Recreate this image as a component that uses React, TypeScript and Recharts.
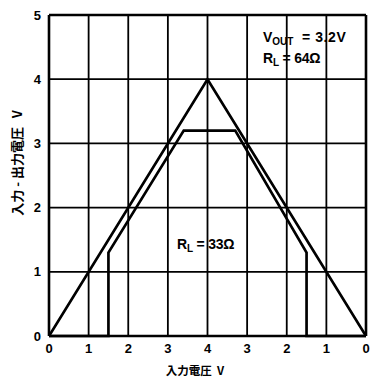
import React from 'react';
import { LineChart, Line, XAxis, YAxis, CartesianGrid, ReferenceLine } from 'recharts';

// Input sweep positions (0 → 4 V → 0) and the tick labels shown along the bottom
const xTicks = [0, 1, 2, 3, 4, 5, 6, 7, 8];
const xTickLabels = ['0', '1', '2', '3', '4', '3', '2', '1', '0'];
const yTicks = [0, 1, 2, 3, 4, 5];

// Input voltage trace (identity, up then down)
const inputX = [0, 4, 8];
const inputY = [0, 4, 0];

// Output voltage with RL = 33Ω: off below 1.5 V, clipped at 3.2 V
const outputX = [0, 1.5, 1.5, 3.4, 4.7, 6.5, 6.5, 8];
const outputY = [0, 0, 1.3, 3.2, 3.2, 1.3, 0, 0];

const toPoints = (xs: number[], ys: number[]) => xs.map((x, i) => ({ x, y: ys[i] }));
const inputData = toPoints(inputX, inputY);
const outputData = toPoints(outputX, outputY);

const W = 362;
const H = 375;
const latin = '"Liberation Sans", Arial, Helvetica, sans-serif';
const cjk = '"Noto Sans CJK JP", "Noto Sans", sans-serif';

export default function App() {
  return (
    <div style={{ position: 'absolute', left: 8, top: 8, width: W, height: H }}>
      <LineChart width={W} height={H} margin={{ top: 7, right: 4, left: 0, bottom: 0 }}>
        <CartesianGrid stroke="#000" strokeWidth={1.8} strokeOpacity={1} />
        <XAxis
          type="number"
          dataKey="x"
          domain={[0, 8]}
          ticks={xTicks}
          tickFormatter={(v: number) => xTickLabels[v]}
          interval={0}
          height={47}
          tickLine={false}
          axisLine={{ stroke: '#000', strokeWidth: 2.6 }}
          tick={{ fill: '#000', fontSize: 13, fontWeight: 'bold', fontFamily: latin }}
          allowDataOverflow
        />
        <YAxis
          type="number"
          domain={[0, 5]}
          ticks={yTicks}
          interval={0}
          width={41}
          tickLine={false}
          axisLine={{ stroke: '#000', strokeWidth: 2.6 }}
          tick={{ fill: '#000', fontSize: 13, fontWeight: 'bold', fontFamily: latin }}
        />
        <ReferenceLine y={5} stroke="#000" strokeWidth={2.6} />
        <ReferenceLine x={8} stroke="#000" strokeWidth={2.6} />
        <Line
          data={inputData}
          dataKey="y"
          type="linear"
          stroke="#000"
          strokeWidth={2.7}
          dot={false}
          isAnimationActive={false}
        />
        <Line
          data={outputData}
          dataKey="y"
          type="linear"
          stroke="#000"
          strokeWidth={2.7}
          dot={false}
          isAnimationActive={false}
        />
      </LineChart>
      <svg
        width={W}
        height={H}
        style={{ position: 'absolute', left: 0, top: 0, pointerEvents: 'none', overflow: 'visible' }}
      >
        <text
          x={8.5}
          y={155}
          transform="rotate(-90, 8.5, 155)"
          textAnchor="middle"
          dominantBaseline="central"
          fontFamily={cjk}
          fontWeight="bold"
          fontSize={13}
          fill="#000"
          xmlSpace="preserve"
        >
          入力 - 出力電圧   V
        </text>
        <text
          x={187}
          y={362}
          textAnchor="middle"
          dominantBaseline="central"
          fontFamily={cjk}
          fontWeight="bold"
          fontSize={11.5}
          fill="#000"
          xmlSpace="preserve"
        >
          入力電圧  V
        </text>
        <text x={255} y={34} fontFamily={latin} fontWeight="bold" fontSize={14} fill="#000">
          V<tspan fontSize={10} dy={3}>OUT</tspan>
          <tspan dy={-3} dx={4} letterSpacing={0.6}> = 3.2V</tspan>
        </text>
        <text
          x={255}
          y={55}
          fontFamily={latin}
          fontWeight="bold"
          fontSize={14}
          letterSpacing={-0.2}
          fill="#000"
        >
          R<tspan fontSize={10} dy={3}>L</tspan>
          <tspan dy={-3}> = 64Ω</tspan>
        </text>
        <text
          x={169}
          y={241}
          fontFamily={latin}
          fontWeight="bold"
          fontSize={14}
          letterSpacing={-0.2}
          fill="#000"
        >
          R<tspan fontSize={10} dy={3}>L</tspan>
          <tspan dy={-3}> = 33Ω</tspan>
        </text>
      </svg>
    </div>
  );
}
